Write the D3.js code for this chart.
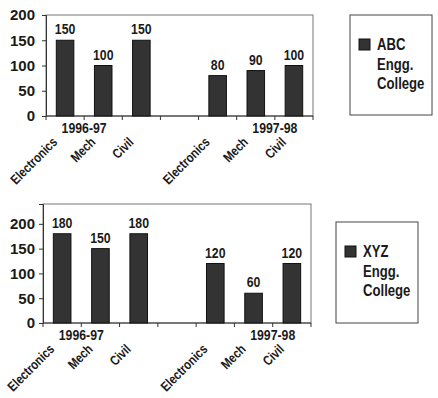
<!DOCTYPE html>
<html lang="en">
<head>
<meta charset="UTF-8">
<title>Engg. College admissions</title>
<script src="https://cdn.jsdelivr.net/npm/d3@7/dist/d3.min.js"></script>
<style>
  body { margin: 0; background: #fff; }
  text { font-family: "Liberation Sans", Arial, Helvetica, sans-serif; font-weight: bold; fill: #1a1a1a; }
</style>
</head>
<body>
<script>
// data
var years = ["1996-97", "1997-98"];
var branches = ["Electronics", "Mech", "Civil"];
var colleges = ["ABC Engg. College", "XYZ Engg. College"];
var abcValues = [150, 100, 150, 80, 90, 100];
var xyzValues = [180, 150, 180, 120, 60, 120];
var yTicks = [0, 50, 100, 150, 200];

var width = 438, height = 398;
var NARROW = 0.82;   // squeeze text to look like a narrow face
var svg = d3.select("body").append("svg")
    .attr("width", width).attr("height", height);

// one panel per college: layout only
var panels = [
    {values: abcValues, name: colleges[0], left: 46, right: 313, top: 15, bottom: 116, yMax: 200, pad: 7,
     legend: {x: 350, y: 15, w: 82, h: 100}},
    {values: xyzValues, name: colleges[1], left: 43, right: 311, top: 204, bottom: 323, yMax: 240, pad: 4,
     legend: {x: 336, y: 222, w: 82, h: 101}}
];

// slot keys: 3 branches, one empty slot, 3 branches
var keys = [];
years.forEach(function(yr, gi){
    branches.forEach(function(b){ keys.push(yr + "|" + b); });
    if (gi < years.length - 1) keys.push("gap");
});

function tr(x, y, extra){
    return "translate(" + x + "," + y + ")" + (extra || "") + " scale(" + NARROW + ",1)";
}

panels.forEach(function(p){
    var g = svg.append("g");

    var x = d3.scaleBand().domain(keys)
        .range([p.left, p.right])
        .paddingInner(0.54).paddingOuter(0.27);
    var y = d3.scaleLinear().domain([0, p.yMax]).range([p.bottom, p.top]);

    var rows = [];
    years.forEach(function(yr, gi){
        branches.forEach(function(b, bi){
            rows.push({key: yr + "|" + b, branch: b, value: p.values[gi * branches.length + bi]});
        });
    });

    // plot frame
    g.append("rect")
        .attr("x", p.left).attr("y", p.top)
        .attr("width", p.right - p.left).attr("height", p.bottom - p.top)
        .attr("fill", "none").attr("stroke", "#777").attr("stroke-width", 1);

    // y axis
    var yAxis = g.append("g")
        .attr("transform", "translate(" + p.left + ",0)")
        .call(d3.axisLeft(y).tickValues(yTicks).tickSize(4).tickPadding(p.pad));
    yAxis.select(".domain").attr("stroke", "#333");
    yAxis.selectAll(".tick line").attr("stroke", "#333");
    yAxis.selectAll("text").attr("font-size", 15).attr("fill", "#1a1a1a")
        .attr("font-family", null).attr("font-weight", "bold");

    // bottom axis line + boundary ticks
    g.append("line")
        .attr("x1", p.left).attr("x2", p.right)
        .attr("y1", p.bottom).attr("y2", p.bottom)
        .attr("stroke", "#333");
    g.selectAll(".xt").data(d3.range(keys.length + 1)).enter().append("line")
        .attr("x1", function(i){ return p.left + i * x.step(); })
        .attr("x2", function(i){ return p.left + i * x.step(); })
        .attr("y1", p.bottom).attr("y2", p.bottom + 4)
        .attr("stroke", "#333");

    // bars
    g.selectAll(".bar").data(rows).enter().append("rect")
        .attr("x", function(d){ return x(d.key); })
        .attr("y", function(d){ return y(d.value); })
        .attr("width", x.bandwidth())
        .attr("height", function(d){ return y(0) - y(d.value); })
        .attr("fill", "#333").attr("stroke", "#111").attr("stroke-width", 1);

    // value labels
    g.selectAll(".val").data(rows).enter().append("text")
        .attr("transform", function(d){
            return tr(x(d.key) + x.bandwidth() / 2, y(d.value) - 6);
        })
        .attr("text-anchor", "middle").attr("font-size", 15)
        .text(function(d){ return d.value; });

    // branch labels, slanted
    g.selectAll(".cat").data(rows).enter().append("text")
        .attr("text-anchor", "end").attr("font-size", 13.5)
        .attr("transform", function(d){
            return tr(x(d.key) + x.bandwidth() / 2 - 7, p.bottom + 27, " rotate(-45)");
        })
        .text(function(d){ return d.branch; });

    // year labels sit on a slot boundary
    var yearAt = [1, 6];
    g.selectAll(".yr").data(years).enter().append("text")
        .attr("transform", function(d, i){
            return tr(p.left + yearAt[i] * x.step(), p.bottom + 17);
        })
        .attr("text-anchor", "middle").attr("font-size", 15)
        .text(function(d){ return d; });

    // legend
    var L = p.legend;
    g.append("rect")
        .attr("x", L.x).attr("y", L.y).attr("width", L.w).attr("height", L.h)
        .attr("fill", "#fff").attr("stroke", "#444");
    g.append("rect")
        .attr("x", L.x + 9).attr("y", L.y + 24).attr("width", 11).attr("height", 11)
        .attr("fill", "#333").attr("stroke", "#111");
    g.selectAll(".lg").data(p.name.split(" ")).enter().append("text")
        .attr("transform", function(d, i){ return tr(L.x + 27, L.y + 35 + i * 19.5); })
        .attr("font-size", 16)
        .text(function(d){ return d; });
});
</script>
</body>
</html>
